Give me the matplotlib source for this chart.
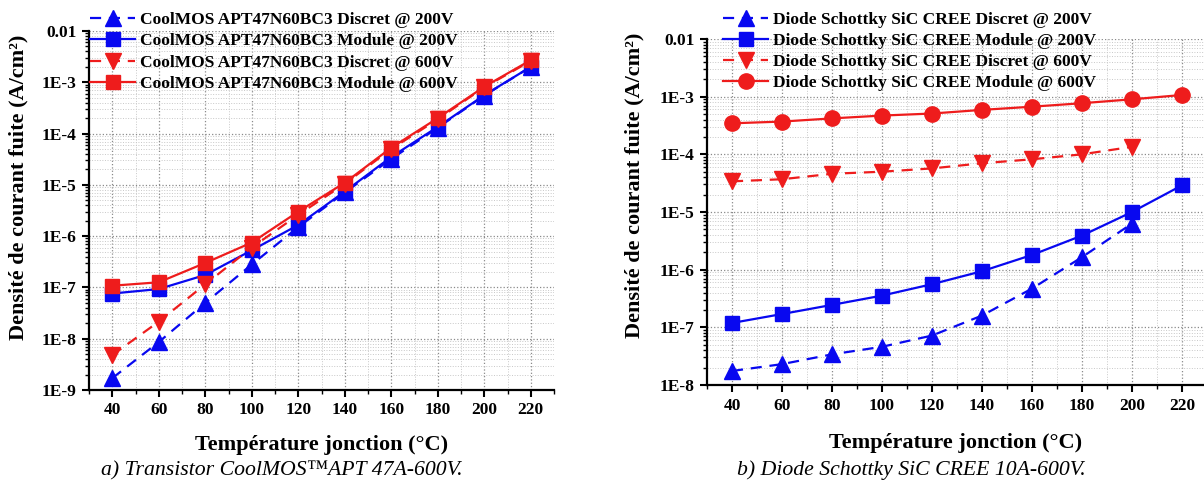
import matplotlib.pyplot as plt
from matplotlib.ticker import FixedLocator, FixedFormatter, MultipleLocator, LogLocator, NullFormatter

# temperature axis
temp = [40, 60, 80, 100, 120, 140, 160, 180, 200, 220]
temp_disc = [40, 60, 80, 100, 120, 140, 160, 180, 200]

# a) CoolMOS APT47N60BC3 leakage current density (A/cm2)
mos_disc_200 = [1.7e-9, 8.6e-9, 5.0e-8, 2.8e-7, 1.5e-6, 7.1e-6, 3.2e-5, 1.3e-4, 5.5e-4, 2.0e-3]
mos_mod_200 = [7.6e-8, 9.3e-8, 1.75e-7, 5.3e-7, 1.65e-6, 7.4e-6, 3.5e-5, 1.35e-4, 5.6e-4, 2.0e-3]
mos_disc_600 = [4.8e-9, 2.15e-8, 1.15e-7, 6.0e-7, 2.6e-6, 1.05e-5, 5.0e-5, 1.9e-4, 8.0e-4, 2.6e-3]
mos_mod_600 = [1.08e-7, 1.26e-7, 3.0e-7, 7.5e-7, 3.0e-6, 1.1e-5, 5.3e-5, 2.0e-4, 8.2e-4, 2.7e-3]

# b) Diode Schottky SiC CREE
sic_disc_200 = [1.75e-8, 2.3e-8, 3.4e-8, 4.6e-8, 7.2e-8, 1.6e-7, 4.7e-7, 1.65e-6, 6.3e-6]
sic_mod_200 = [1.19e-7, 1.7e-7, 2.45e-7, 3.55e-7, 5.6e-7, 9.4e-7, 1.8e-6, 3.9e-6, 1.0e-5, 2.9e-5]
sic_disc_600 = [3.4e-5, 3.7e-5, 4.6e-5, 5.0e-5, 5.7e-5, 7.0e-5, 8.2e-5, 1.0e-4, 1.35e-4]
sic_mod_600 = [3.45e-4, 3.7e-4, 4.2e-4, 4.7e-4, 5.1e-4, 5.9e-4, 6.7e-4, 7.7e-4, 9.0e-4, 1.07e-3]

yticks_a = [1e-9, 1e-8, 1e-7, 1e-6, 1e-5, 1e-4, 1e-3, 1e-2]
ylabels_a = ["1E-9", "1E-8", "1E-7", "1E-6", "1E-5", "1E-4", "1E-3", "0.01"]
yticks_b = [1e-8, 1e-7, 1e-6, 1e-5, 1e-4, 1e-3, 1e-2]
ylabels_b = ["1E-8", "1E-7", "1E-6", "1E-5", "1E-4", "1E-3", "0.01"]
xticks = [40, 60, 80, 100, 120, 140, 160, 180, 200, 220]

BLUE = "#0808f0"
RED = "#ee1c1c"
serif = ["Liberation Serif", "DejaVu Serif"]
plt.rcParams["font.family"] = serif
plt.rcParams["font.weight"] = "bold"

fig = plt.figure(figsize=(12.04, 4.88), dpi=100)
ax1 = fig.add_axes([89 / 1204, 1 - 390 / 488, 465 / 1204, 359 / 488])
ax2 = fig.add_axes([707 / 1204, 1 - 385 / 488, 497.5 / 1204, 346 / 488])

dash = (0, (5, 3.5))
lw = 1.6

ax1.plot(temp, mos_disc_200, color=BLUE, ls=dash, lw=lw, marker="^", ms=12,
         label="CoolMOS APT47N60BC3 Discret @ 200V")
ax1.plot(temp, mos_mod_200, color=BLUE, ls="-", lw=lw, marker="s", ms=10,
         label="CoolMOS APT47N60BC3 Module @ 200V")
ax1.plot(temp, mos_disc_600, color=RED, ls=dash, lw=lw, marker="v", ms=12,
         label="CoolMOS APT47N60BC3 Discret @ 600V")
ax1.plot(temp, mos_mod_600, color=RED, ls="-", lw=lw, marker="s", ms=10,
         label="CoolMOS APT47N60BC3 Module @ 600V")

ax2.plot(temp_disc, sic_disc_200, color=BLUE, ls=dash, lw=lw, marker="^", ms=12,
         label="Diode Schottky SiC CREE Discret @ 200V")
ax2.plot(temp, sic_mod_200, color=BLUE, ls="-", lw=lw, marker="s", ms=10,
         label="Diode Schottky SiC CREE Module @ 200V")
ax2.plot(temp_disc, sic_disc_600, color=RED, ls=dash, lw=lw, marker="v", ms=12,
         label="Diode Schottky SiC CREE Discret @ 600V")
ax2.plot(temp, sic_mod_600, color=RED, ls="-", lw=lw, marker="o", ms=11,
         label="Diode Schottky SiC CREE Module @ 600V")

for ax, yt, yl, ylim, xr in [(ax1, yticks_a, ylabels_a, (1e-9, 1e-2), 230),
                             (ax2, yticks_b, ylabels_b, (1e-8, 1e-2), 229)]:
    ax.set_yscale("log")
    ax.set_ylim(*ylim)
    ax.set_xlim(30, xr)
    ax.yaxis.set_major_locator(FixedLocator(yt))
    ax.yaxis.set_major_formatter(FixedFormatter(yl))
    ax.yaxis.set_minor_locator(LogLocator(base=10, subs=range(2, 10), numticks=20))
    ax.yaxis.set_minor_formatter(NullFormatter())
    ax.xaxis.set_major_locator(FixedLocator(xticks))
    ax.xaxis.set_minor_locator(MultipleLocator(10))
    ax.tick_params(which="major", direction="out", length=5, width=1.5,
                   labelsize=12.5, pad=4)
    ax.tick_params(which="minor", direction="out", length=3, width=1.0)
    for lab in ax.get_xticklabels() + ax.get_yticklabels():
        lab.set_fontweight("bold")
    ax.grid(which="major", ls=":", color="#8a8a8a", lw=0.9)
    ax.grid(which="minor", ls=":", color="#c8c8c8", lw=0.7)
    ax.set_axisbelow(True)
    for s in ["top", "right"]:
        ax.spines[s].set_visible(False)
    for s in ["left", "bottom"]:
        ax.spines[s].set_linewidth(1.6)
    ax.set_xlabel("Température jonction (°C)", fontsize=16, fontweight="bold", va="center")
    ax.set_ylabel("Densité de courant fuite (A/cm²)", fontsize=16, fontweight="bold", va="center")

ax1.xaxis.set_label_coords(0.501, -0.153)
ax1.yaxis.set_label_coords(-0.152, 0.564)
ax2.xaxis.set_label_coords(0.5005, -0.168)
ax2.yaxis.set_label_coords(-0.145, 0.578)

ax1.legend(loc="upper left", bbox_to_anchor=(90 / 1204, 0.976), bbox_transform=fig.transFigure,
           frameon=False, prop={"size": 12.5, "weight": "bold"}, handlelength=2.6,
           handletextpad=0.3, labelspacing=0.31, borderpad=0, borderaxespad=0)
ax2.legend(loc="upper left", bbox_to_anchor=(723 / 1204, 0.976), bbox_transform=fig.transFigure,
           frameon=False, prop={"size": 12.5, "weight": "bold"}, handlelength=2.6,
           handletextpad=0.3, labelspacing=0.28, borderpad=0, borderaxespad=0)

fig.text(282 / 1204, 0.036, "a) Transistor CoolMOS™APT 47A-600V.", ha="center", va="center",
         fontsize=15.7, style="italic", fontweight="normal")
fig.text(911 / 1204, 0.036, "b) Diode Schottky SiC CREE 10A-600V.", ha="center", va="center",
         fontsize=15.7, style="italic", fontweight="normal")

fig.savefig("out.png", dpi=100)
